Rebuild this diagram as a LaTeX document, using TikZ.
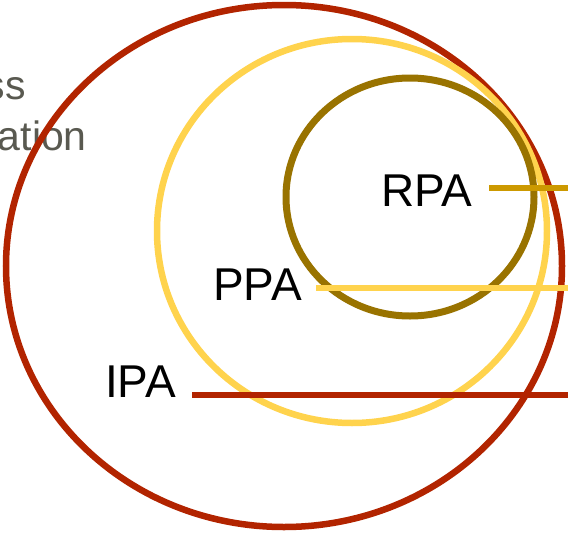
\documentclass[tikz,border=0pt]{standalone}
\usepackage{fontspec}
\setmainfont{Liberation Sans}
\definecolor{ipared}{HTML}{B22400}
\definecolor{ppayel}{HTML}{FFD34D}
\definecolor{rpabrown}{HTML}{997300}
\definecolor{rpagold}{HTML}{CC9900}
\definecolor{graytxt}{HTML}{595950}
\tikzset{
  lbl/.style={anchor=base west, inner sep=0pt, text=black, font=\fontsize{46}{52}\selectfont},
  graylbl/.style={anchor=base east, inner sep=0pt, text=graytxt, font=\fontsize{41}{47}\selectfont},
  ring/.style={line width=6.5pt},
  leader/.style={line width=6pt}
}
\begin{document}
\begin{tikzpicture}[x=1pt,y=-1pt]
\useasboundingbox (0,0) rectangle (568,533);
% gray clipped text
\node[graylbl] (g1) at (26,99) {ss};
\node[graylbl] (g2) at (87,150) {ation};
% rings
\draw[ring, ipared] (284,266) ellipse [x radius=278pt, y radius=261pt];
\draw[ring, ppayel] (352,231) ellipse [x radius=195pt, y radius=192pt];
\draw[ring, rpabrown, line width=7pt] (410,197) ellipse [x radius=124pt, y radius=119pt];
% labels
\node[lbl] (rpa) at (381,206) {RPA};
\node[lbl] (ppa) at (213,300) {PPA};
\node[lbl] (ipa) at (105,397) {IPA};
% leader lines
\coordinate (rpaS) at (489,188);
\coordinate (rpaE) at (568,188);
\coordinate (ppaS) at (316,288);
\coordinate (ppaE) at (568,288);
\coordinate (ipaS) at (192,395);
\coordinate (ipaE) at (568,395);
\draw[leader, rpagold] (rpaS) -- (rpaE);
\draw[leader, ppayel] (ppaS) -- (ppaE);
\draw[leader, ipared] (ipaS) -- (ipaE);
\end{tikzpicture}
\end{document}
